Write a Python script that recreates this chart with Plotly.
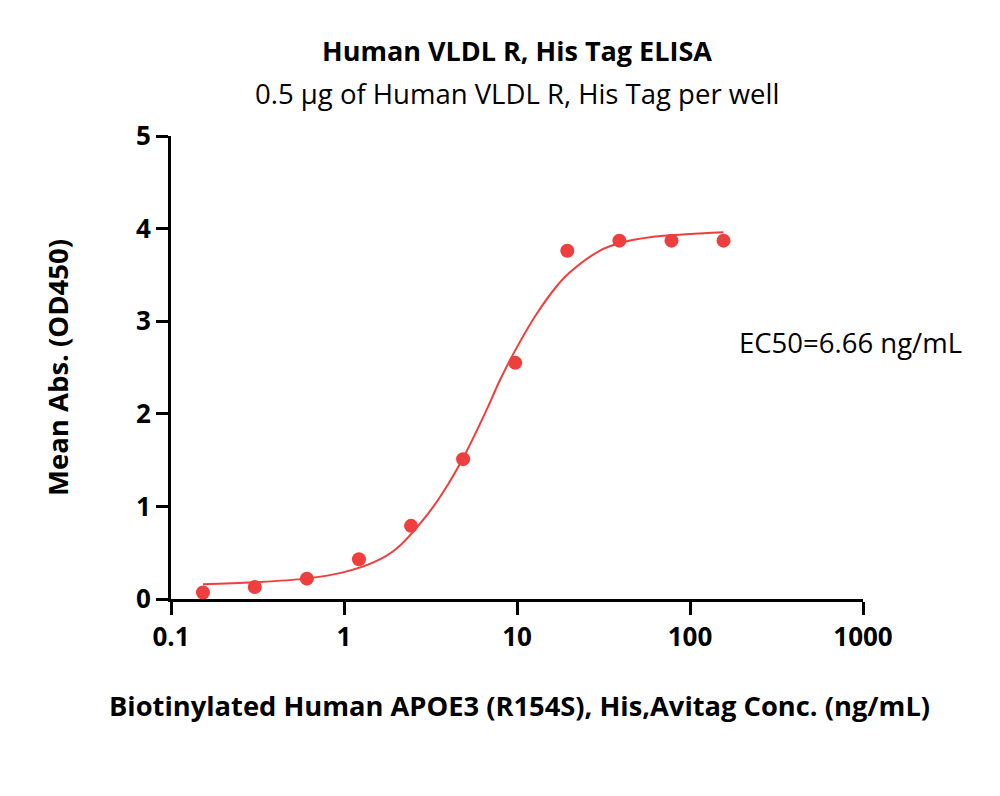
import plotly.graph_objects as go

# Data points (concentration ng/mL, mean OD450)
conc = [0.153, 0.305, 0.61, 1.22, 2.44, 4.88, 9.77, 19.53, 39.06, 78.13, 156.25]
od450 = [0.07, 0.13, 0.22, 0.43, 0.79, 1.51, 2.55, 3.76, 3.87, 3.87, 3.87]

# Fitted curve, values
curve_x = [0.153, 0.3, 0.6, 1, 1.5, 2, 3, 4, 5, 6.66, 8, 10, 13, 17, 20, 30, 40, 60, 80, 120, 156]
curve_y = [0.16, 0.18, 0.22, 0.29, 0.40, 0.54, 0.90, 1.24, 1.56, 2.04, 2.37, 2.72, 3.08, 3.38, 3.52, 3.76, 3.85, 3.91, 3.93, 3.95, 3.96]

x_tickvals = [0.1, 1, 10, 100, 1000]
x_ticktext = ["0.1", "1", "10", "100", "1000"]
y_tickvals = [0, 1, 2, 3, 4, 5]

title = "Human VLDL R, His Tag ELISA"
subtitle = "0.5 μg of Human VLDL R, His Tag per well"
x_title = "Biotinylated Human APOE3 (R154S), His,Avitag Conc. (ng/mL)"
y_title = "Mean Abs. (OD450)"
ec50_text = "EC50=6.66 ng/mL"

red = "#ef3e3e"
FONT = "Open Sans"

# page offset of the plot (body margin) and target plot-area box in page pixels
OFF = 8
PX0, PX1, PY0, PY1 = 171, 863, 136, 599
W, H = 984, 780

fig = go.Figure()
fig.add_trace(go.Scatter(x=curve_x, y=curve_y, mode="lines",
                         line=dict(color=red, width=2, shape="spline"),
                         hoverinfo="skip", showlegend=False))
fig.add_trace(go.Scatter(x=conc, y=od450, mode="markers",
                         marker=dict(color=red, size=14),
                         showlegend=False))

fig.update_layout(
    width=W, height=H,
    paper_bgcolor="white", plot_bgcolor="white",
    margin=dict(l=PX0 - OFF, r=W - (PX1 - OFF), t=PY0 - OFF, b=H - (PY1 - OFF)),
    font=dict(family=FONT, color="black"),
    showlegend=False,
)
fig.update_xaxes(
    type="log", range=[-1, 3],
    tickvals=x_tickvals, ticktext=x_ticktext,
    showline=True, linecolor="black", linewidth=3,
    ticks="outside", ticklen=13, tickwidth=3, tickcolor="black",
    showgrid=False, zeroline=False,
    tickfont=dict(family=FONT, size=26, color="black", weight="bold"),
)
fig.update_yaxes(
    range=[0, 5], tickvals=y_tickvals,
    showline=True, linecolor="black", linewidth=3,
    ticks="outside", ticklen=12, tickwidth=3, tickcolor="black",
    showgrid=False, zeroline=False,
    tickfont=dict(family=FONT, size=26, color="black", weight="bold"),
)

def px(x):
    return (x - PX0) / (PX1 - PX0)

def py(y):
    return (PY1 - y) / (PY1 - PY0)

ann = [
    (f"<b>{title}</b>", 517, 50, 27, 0),
    (subtitle, 517, 93, 27.5, 0),
    (f"<b>{x_title}</b>", 519, 705, 27.3, 0),
    (ec50_text, 850, 342, 27.5, 0),
    (f"<b>{y_title}</b>", 57, 368, 27.5, -90),
]
for text, x, y, size, ang in ann:
    fig.add_annotation(text=text, xref="paper", yref="paper",
                       x=px(x), y=py(y), textangle=ang,
                       showarrow=False, xanchor="center", yanchor="middle",
                       font=dict(family=FONT, color="black", size=size))

fig.write_html("out.html")
